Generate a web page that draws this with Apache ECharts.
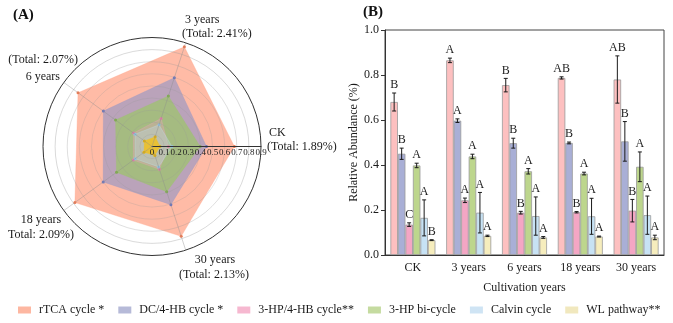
<!DOCTYPE html>
<html>
<head>
<meta charset="utf-8">
<script src="https://cdn.jsdelivr.net/npm/echarts@6/dist/echarts.min.js"></script>
<style>
html,body{margin:0;padding:0;background:#fff;}
#chart{width:673px;height:323px;}
</style>
</head>
<body>
<div id="chart"></div>
<script>
// ---- data ----
const categories = ['CK', '3 years', '6 years', '18 years', '30 years'];
const seriesNames = ['rTCA cycle *', 'DC/4-HB cycle *', '3-HP/4-HB cycle**', '3-HP bi-cycle', 'Calvin cycle', 'WL pathway**'];

const rTCA     = [0.680, 0.865, 0.755, 0.787, 0.780];
const dc4hb    = [0.450, 0.597, 0.497, 0.498, 0.505];
const hp4hb    = [0.135, 0.243, 0.188, 0.190, 0.197];
const hpBi     = [0.398, 0.438, 0.372, 0.362, 0.392];
const calvin   = [0.165, 0.188, 0.173, 0.172, 0.177];
const wl       = [0.066, 0.085, 0.078, 0.082, 0.078];

const rTCAErr   = [0.040, 0.010, 0.030, 0.005, 0.105];
const dc4hbErr  = [0.025, 0.008, 0.022, 0.004, 0.088];
const hp4hbErr  = [0.008, 0.010, 0.006, 0.003, 0.050];
const hpBiErr   = [0.010, 0.010, 0.012, 0.006, 0.066];
const calvinErr = [0.080, 0.090, 0.085, 0.080, 0.085];
const wlErr     = [0.002, 0.003, 0.004, 0.002, 0.010];

const rTCALetters   = ['B', 'A', 'B', 'AB', 'AB'];
const dc4hbLetters  = ['B', 'A', 'B', 'B', 'B'];
const hp4hbLetters  = ['C', 'A', 'B', 'B', 'B'];
const hpBiLetters   = ['A', 'A', 'A', 'A', 'A'];
const calvinLetters = ['A', 'A', 'A', 'A', 'A'];
const wlLetters     = ['B', 'A', 'A', 'A', 'A'];

const radarTicks = ['0', '0.1', '0.2', '0.3', '0.4', '0.5', '0.6', '0.7', '0.8', '0.9'];
const yTicks = ['0.0', '0.2', '0.4', '0.6', '0.8', '1.0'];

// radar name labels (text lines)
const radarNameLines = [
  ['CK', '(Total: 1.89%)'],
  ['3 years', '(Total: 2.41%)'],
  ['(Total: 2.07%)', '6 years'],
  ['18 years', 'Total: 2.09%)'],
  ['30 years', '(Total: 2.13%)']
];

// ---- styles / layout ----
const FONT = '"Liberation Serif", "Times New Roman", serif';
const values = [rTCA, dc4hb, hp4hb, hpBi, calvin, wl];
const errs = [rTCAErr, dc4hbErr, hp4hbErr, hpBiErr, calvinErr, wlErr];
const letters = [rTCALetters, dc4hbLetters, hp4hbLetters, hpBiLetters, calvinLetters, wlLetters];
const barColors = ['#FDC0C0', '#A9AFD6', '#F4A6C4', '#BDD68D', '#C7E2F4', '#F6EDBD'];
const radarColors = ['#FF9E80', '#9A98C4', '#F0A0C0', '#9CC46A', '#BFE0F5', '#F0C020'];
const radarOpacity = [0.7, 0.68, 0.3, 0.7, 0.3, 0.85];
const radarSymbolColors = ['#F47A50', '#6A74C0', '#E080A8', '#7FAF4A', '#90C0E0', '#E0B010'];
const legendColors = ['#FDB7A1', '#B6BAD8', '#F6B8D0', '#C5DBA0', '#CFE4F4', '#F1E8BE'];
const radarDrawOrder = [0, 1, 3, 2, 4, 5];
const BAR_W = 7.5;

// label positions [x, y, align] per line
const radarNamePos = [
  [[269, 133, 'left'], [267, 147, 'left']],
  [[185, 20, 'left'], [182, 34, 'left']],
  [[78, 60, 'right'], [60, 77, 'right']],
  [[41, 220, 'center'], [41, 235, 'center']],
  [[215, 260, 'center'], [214, 275, 'center']]
];

const chart = echarts.init(document.getElementById('chart'), null, {renderer: 'canvas'});

const radarSplitColors = ['rgba(150,150,150,0.25)','rgba(150,150,150,0.25)','rgba(150,150,150,0.25)','rgba(150,150,150,0.25)','rgba(150,150,150,0.25)','rgba(150,150,150,0.25)','rgba(150,150,150,0.25)','rgba(150,150,150,0.3)','rgba(150,150,150,0.35)','#333333'];

const indicators = categories.map((c, i) => {
  const ind = {name: c, min: 0, max: 0.9};
  if (i === 0) {
    ind.axisLabel = {show: true, fontSize: 9, color: '#222', fontFamily: FONT, margin: -2,
      verticalAlign: 'top',
      formatter: (v) => radarTicks[Math.round(v * 10)] };
    ind.axisLine = {lineStyle: {color: '#333', width: 1}};
  }
  return ind;
});

const series = [];
radarDrawOrder.forEach((k) => {
  series.push({
    type: 'radar',
    name: seriesNames[k],
    symbol: 'circle',
    symbolSize: 3,
    itemStyle: {color: radarSymbolColors[k]},
    lineStyle: {width: 0.5, color: radarColors[k], opacity: 0.6},
    areaStyle: {color: radarColors[k], opacity: radarOpacity[k]},
    data: [{name: seriesNames[k], value: values[k]}],
    z: 2
  });
});

seriesNames.forEach((n, k) => {
  series.push({
    type: 'bar',
    name: n,
    data: values[k],
    barWidth: BAR_W,
    barGap: '0%',
    itemStyle: {color: barColors[k], borderColor: '#9a9a9a', borderWidth: 0.8},
    z: 3
  });
});

seriesNames.forEach((n, k) => {
  const off = (k - 2.5) * BAR_W;
  series.push({
    type: 'custom',
    xAxisIndex: 0,
    yAxisIndex: 0,
    z: 5,
    silent: true,
    data: categories.map((c, i) => [i, values[k][i], errs[k][i]]),
    renderItem: (params, api) => {
      const x = api.value(0), m = api.value(1), e = api.value(2);
      const top = api.coord([x, m + e]);
      const bot = api.coord([x, m - e]);
      const cx = top[0] + off;
      const cap = 2;
      const st = {stroke: '#1a1a1a', lineWidth: 1};
      return {
        type: 'group',
        children: [
          {type: 'line', shape: {x1: cx, y1: top[1], x2: cx, y2: bot[1]}, style: st},
          {type: 'line', shape: {x1: cx - cap, y1: top[1], x2: cx + cap, y2: top[1]}, style: st},
          {type: 'line', shape: {x1: cx - cap, y1: bot[1], x2: cx + cap, y2: bot[1]}, style: st},
          {type: 'text', style: {text: letters[k][params.dataIndex], x: cx, y: top[1] - 2,
            textAlign: 'center', textVerticalAlign: 'bottom', font: '12px ' + FONT, fill: '#222'}}
        ]
      };
    }
  });
});

const graphics = [
  {type: 'text', left: 13, top: 8, style: {text: '(A)', font: 'bold 15px ' + FONT, fill: '#111'}},
  {type: 'text', left: 363, top: 5, style: {text: '(B)', font: 'bold 15px ' + FONT, fill: '#111'}}
];
radarNameLines.forEach((lines, i) => {
  lines.forEach((t, j) => {
    const p = radarNamePos[i][j];
    graphics.push({type: 'text', x: p[0], y: p[1],
      style: {text: t, font: '12px ' + FONT, fill: '#1a1a1a', textAlign: p[2], textVerticalAlign: 'middle'}});
  });
});

const option = {
  animation: false,
  backgroundColor: '#fff',
  textStyle: {fontFamily: FONT},
  legend: {
    data: seriesNames.map((n, k) => ({name: n, itemStyle: {color: legendColors[k], opacity: 1, borderWidth: 0}})),
    left: 18,
    top: 304,
    padding: 0,
    icon: 'rect',
    itemWidth: 13,
    itemHeight: 7,
    itemGap: 14,
    textStyle: {fontFamily: FONT, fontSize: 12, color: '#1a1a1a', padding: [0, 0, 0, 3]},
    selectedMode: false
  },
  radar: {
    center: [152, 146.5],
    radius: 109,
    startAngle: 0,
    shape: 'circle',
    splitNumber: 9,
    z: 10,
    indicator: indicators,
    axisName: {show: false},
    axisLine: {lineStyle: {color: 'rgba(140,140,140,0.5)', width: 0.8}},
    axisTick: {show: false},
    axisLabel: {show: false},
    splitLine: {lineStyle: {color: radarSplitColors, width: 1}},
    splitArea: {show: false}
  },
  grid: {
    left: 385, right: 9, top: 30, bottom: 68,
    show: true, borderColor: '#444', borderWidth: 1, backgroundColor: 'transparent'
  },
  xAxis: {
    type: 'category',
    data: categories,
    axisLine: {lineStyle: {color: '#333'}},
    axisTick: {alignWithLabel: true, length: 4, lineStyle: {color: '#333'}},
    axisLabel: {fontFamily: FONT, fontSize: 12, color: '#1a1a1a', margin: 7},
    name: 'Cultivation years',
    nameLocation: 'middle',
    nameGap: 27,
    nameTextStyle: {fontFamily: FONT, fontSize: 12, color: '#1a1a1a'}
  },
  yAxis: {
    type: 'value',
    min: 0, max: 1, interval: 0.2,
    axisLine: {show: true, lineStyle: {color: '#333'}},
    axisTick: {show: true, length: 4, lineStyle: {color: '#333'}},
    splitLine: {show: false},
    axisLabel: {fontFamily: FONT, fontSize: 12, color: '#1a1a1a', margin: 6,
      formatter: (v) => yTicks[Math.round(v * 5)]},
    name: 'Relative Abundance (%)',
    nameLocation: 'middle',
    nameGap: 22,
    nameTextStyle: {fontFamily: FONT, fontSize: 12, color: '#1a1a1a'}
  },
  graphic: graphics,
  series: series
};

chart.setOption(option);
</script>
</body>
</html>
